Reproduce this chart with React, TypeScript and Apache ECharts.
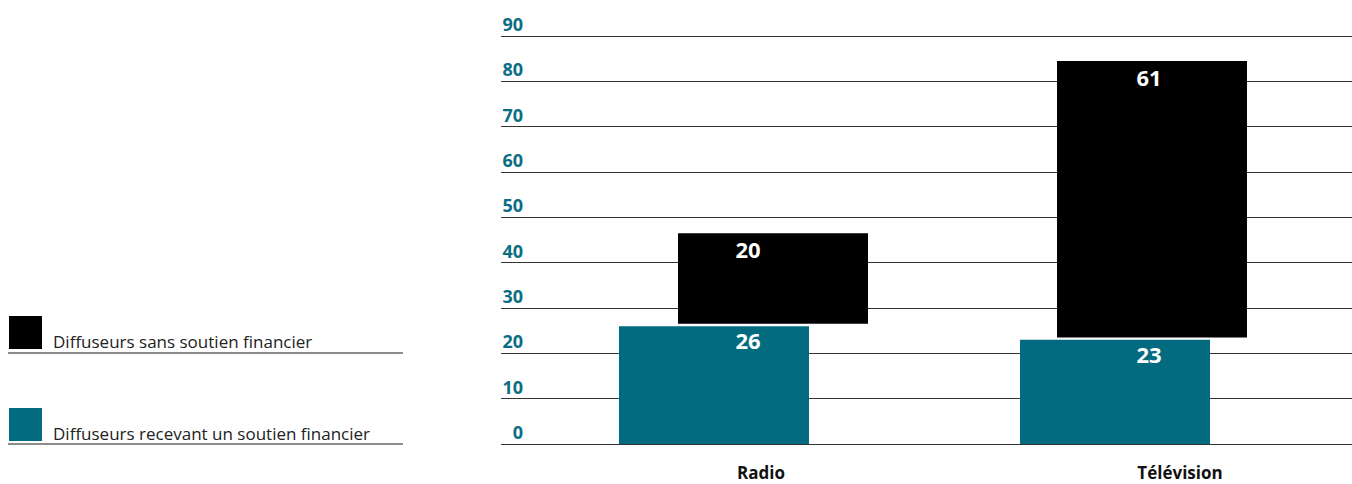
import React, { useEffect, useRef } from "react";
import * as echarts from "echarts";

const categories = ["Radio", "Télévision"];
const withSupport = [26, 23];
const withoutSupport = [20, 61];
const yMin = 0;
const yMax = 90;
const yInterval = 10;

const seriesWith = "Diffuseurs recevant un soutien financier";
const seriesWithout = "Diffuseurs sans soutien financier";

const TEAL = "#036b80";
const LABEL_TEAL = "#0b6e84";
const FONT = "'Open Sans', 'Noto Sans', sans-serif";

export default function App() {
  const ref = useRef<HTMLDivElement>(null);

  useEffect(() => {
    if (!ref.current) return;
    const chart = echarts.init(ref.current, null, { renderer: "svg" });

    const hiddenY = (grid: number) => ({
      type: "value",
      gridIndex: grid,
      min: yMin,
      max: yMax,
      interval: yInterval,
      show: false,
      splitLine: { show: false },
    });
    const hiddenX = (grid: number) => ({
      type: "category",
      gridIndex: grid,
      data: categories,
      show: false,
    });

    const valueLabel = (offset: number[]) => ({
      show: true,
      position: "insideTop",
      distance: 3,
      offset,
      color: "#ffffff",
      fontSize: 22,
      fontWeight: "bold",
      fontFamily: FONT,
    });

    chart.setOption({
      animation: false,
      textStyle: { fontFamily: FONT },
      grid: [
        { left: 501, right: 0, top: 36, height: 408 },
        { left: 513.5, width: 802, top: 36, height: 408 },
        { left: 583.5, width: 758, top: 33.7, height: 408 },
        { left: 761, width: 419, top: 36, height: 408 },
      ],
      xAxis: [
        hiddenX(0),
        hiddenX(1),
        hiddenX(2),
        {
          type: "category",
          gridIndex: 3,
          data: categories,
          boundaryGap: false,
          axisLine: { show: false },
          axisTick: { show: false },
          axisLabel: {
            margin: 20,
            fontSize: 17,
            lineHeight: 17,
            fontWeight: "bold",
            color: "#111111",
            fontFamily: FONT,
          },
        },
      ],
      yAxis: [
        {
          type: "value",
          gridIndex: 0,
          min: yMin,
          max: yMax,
          interval: yInterval,
          axisLine: { show: false },
          axisTick: { show: false },
          splitLine: { show: true, lineStyle: { color: "#333333", width: 1 } },
          axisLabel: {
            inside: true,
            margin: 22,
            align: "right",
            verticalAlign: "bottom",
            padding: [0, 0, 3, 0],
            fontSize: 18,
            fontWeight: "bold",
            color: LABEL_TEAL,
            fontFamily: FONT,
          },
        },
        hiddenY(1),
        hiddenY(2),
        hiddenY(3),
      ],
      legend: {
        orient: "vertical",
        left: 9,
        top: 316,
        padding: 0,
        itemWidth: 33,
        itemHeight: 33,
        itemGap: 58,
        icon: "rect",
        selectedMode: false,
        data: [{ name: seriesWithout }, { name: seriesWith }],
        formatter: "{t|{name}}",
        textStyle: {
          fontSize: 17,
          color: "#222222",
          fontFamily: FONT,
          rich: {
            t: {
              fontSize: 17,
              color: "#222222",
              fontFamily: FONT,
              padding: [18, 0, 0, 6],
            },
          },
        },
      },
      graphic: [
        {
          type: "line",
          shape: { x1: 8, y1: 353, x2: 403, y2: 353 },
          style: { stroke: "#666666", lineWidth: 1.5 },
        },
        {
          type: "line",
          shape: { x1: 8, y1: 444, x2: 403, y2: 444 },
          style: { stroke: "#666666", lineWidth: 1.5 },
        },
      ],
      series: [
        {
          name: "base",
          type: "bar",
          xAxisIndex: 2,
          yAxisIndex: 2,
          stack: "back",
          barWidth: 190,
          data: withSupport,
          itemStyle: { color: "rgba(0,0,0,0)" },
          silent: true,
          z: 1,
        },
        {
          name: seriesWithout,
          type: "bar",
          xAxisIndex: 2,
          yAxisIndex: 2,
          stack: "back",
          barWidth: 190,
          data: withoutSupport,
          itemStyle: { color: "#000000" },
          z: 1,
        },
        {
          name: seriesWith,
          type: "bar",
          xAxisIndex: 1,
          yAxisIndex: 1,
          stack: "front",
          barWidth: 190,
          data: withSupport,
          itemStyle: { color: TEAL },
          label: valueLabel([34, 0]),
          z: 3,
        },
        {
          name: "labelsWithout",
          type: "bar",
          xAxisIndex: 1,
          yAxisIndex: 1,
          stack: "front",
          barWidth: 190,
          data: withoutSupport,
          itemStyle: { color: "rgba(0,0,0,0)" },
          label: valueLabel([34, 0]),
          silent: true,
          z: 3,
        },
      ],
    });

    return () => chart.dispose();
  }, []);

  return (
    <div
      ref={ref}
      style={{ position: "absolute", left: 0, top: 0, width: 1352, height: 484 }}
    />
  );
}
